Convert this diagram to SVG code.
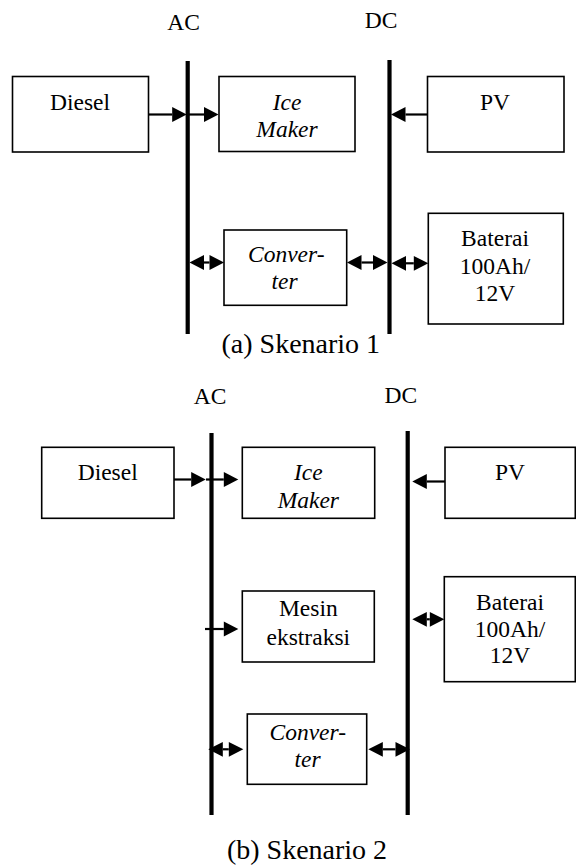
<svg xmlns="http://www.w3.org/2000/svg" width="576" height="865" viewBox="0 0 576 865">
  <defs>
    <style>
      .box { fill: #fff; stroke: #000; stroke-width: 1.6; }
      .bus { stroke: #000; stroke-width: 4.2; fill: none; }
      .wire { stroke: #000; stroke-width: 2.2; fill: none; }
      .one { marker-end: url(#head); }
      .two { marker-start: url(#head); marker-end: url(#head); }
      .lbl { font-family: 'Liberation Serif', 'Times New Roman', Times, serif; font-size: 23.5px; fill: #000; text-anchor: middle; }
      .it { font-style: italic; }
      .cap { font-size: 28px; }
    </style>
    <!-- arrowhead; reference point sits at the base so the wire stops where the head begins -->
    <marker id="head" viewBox="0 -8 15 16" markerUnits="userSpaceOnUse" markerWidth="15" markerHeight="16" refX="0" refY="0" orient="auto-start-reverse" overflow="visible">
      <path d="M0,-7.4 L14.5,0 L0,7.4 Z" fill="#000"/>
    </marker>
  </defs>
  <rect width="576" height="865" fill="#fff"/>

  <!-- ===== Scenario 1 ===== -->
  <g id="s1-buses">
    <line class="bus" x1="187.7" y1="61" x2="187.7" y2="334"/>
    <line class="bus" x1="389.5" y1="60" x2="389.5" y2="334"/>
    <text class="lbl" x="183.5" y="30">AC</text>
    <text class="lbl" x="381" y="27.5">DC</text>
  </g>

  <g id="s1-diesel">
    <rect class="box" x="12.5" y="76.5" width="136" height="75.5"/>
    <text class="lbl" x="80" y="110">Diesel</text>
  </g>
  <g id="s1-icemaker">
    <rect class="box" x="219" y="76.5" width="136" height="75"/>
    <text class="lbl it" x="287" y="110">Ice</text>
    <text class="lbl it" x="287" y="137">Maker</text>
  </g>
  <g id="s1-pv">
    <rect class="box" x="427.5" y="76.5" width="136.5" height="75.5"/>
    <text class="lbl" x="495" y="110">PV</text>
  </g>
  <g id="s1-converter">
    <rect class="box" x="224" y="230" width="122.7" height="75.3"/>
    <text class="lbl it" x="286.3" y="262.3">Conver-</text>
    <text class="lbl it" x="284.5" y="289.3">ter</text>
  </g>
  <g id="s1-baterai">
    <rect class="box" x="428.3" y="213.3" width="135" height="110.7"/>
    <text class="lbl" x="495" y="246">Baterai</text>
    <text class="lbl" x="495" y="274.3">100Ah/</text>
    <text class="lbl" x="495" y="301">12V</text>
  </g>

  <g id="s1-connectors">
    <line class="wire one" x1="148.7" y1="114.5" x2="172.2" y2="114.5"/>
    <line class="wire one" x1="188" y1="114.5" x2="204" y2="114.5"/>
    <line class="wire one" x1="427.7" y1="114.5" x2="405.5" y2="114.5"/>
    <line class="wire two" x1="204" y1="262.5" x2="209.5" y2="262.5"/>
    <line class="wire two" x1="361.5" y1="262.5" x2="373" y2="262.5"/>
    <line class="wire two" x1="406" y1="263.3" x2="413.8" y2="263.3"/>
  </g>

  <text class="lbl cap" x="300.8" y="353.3">(a) Skenario 1</text>

  <!-- ===== Scenario 2 ===== -->
  <g id="s2-buses">
    <line class="bus" x1="211.5" y1="433" x2="211.5" y2="815"/>
    <line class="bus" x1="407.7" y1="431" x2="407.7" y2="815"/>
    <text class="lbl" x="210" y="404.3">AC</text>
    <text class="lbl" x="400.8" y="403.3">DC</text>
  </g>

  <g id="s2-diesel">
    <rect class="box" x="41.7" y="447.3" width="132.3" height="71"/>
    <text class="lbl" x="107.7" y="480">Diesel</text>
  </g>
  <g id="s2-icemaker">
    <rect class="box" x="242.3" y="447.3" width="132.4" height="71"/>
    <text class="lbl it" x="308.3" y="480">Ice</text>
    <text class="lbl it" x="308.3" y="508.3">Maker</text>
  </g>
  <g id="s2-pv">
    <rect class="box" x="445" y="447.3" width="130.3" height="71"/>
    <text class="lbl" x="510" y="480">PV</text>
  </g>
  <g id="s2-mesin">
    <rect class="box" x="242.3" y="591" width="132" height="71"/>
    <text class="lbl" x="308.3" y="616">Mesin</text>
    <text class="lbl" x="308.3" y="645">ekstraksi</text>
  </g>
  <g id="s2-baterai">
    <rect class="box" x="444.3" y="576.7" width="131" height="105"/>
    <text class="lbl" x="510" y="610">Baterai</text>
    <text class="lbl" x="510" y="637.3">100Ah/</text>
    <text class="lbl" x="510" y="663.3">12V</text>
  </g>
  <g id="s2-converter">
    <rect class="box" x="247.3" y="714" width="119.4" height="70.3"/>
    <text class="lbl it" x="307.8" y="740">Conver-</text>
    <text class="lbl it" x="307.5" y="766.7">ter</text>
  </g>

  <g id="s2-connectors">
    <line class="wire one" x1="174" y1="479.5" x2="191.2" y2="479.5"/>
    <line class="wire one" x1="206" y1="479.5" x2="223.8" y2="479.5"/>
    <line class="wire one" x1="445" y1="481.5" x2="426.8" y2="481.5"/>
    <line class="wire one" x1="205" y1="629" x2="223.8" y2="629"/>
    <line class="wire two" x1="426.8" y1="619.3" x2="429.8" y2="619.3"/>
    <line class="wire two" x1="222.8" y1="749.3" x2="228.8" y2="749.3"/>
    <line class="wire two" x1="382.8" y1="749.3" x2="395.5" y2="749.3"/>
  </g>

  <text class="lbl cap" x="307" y="859">(b) Skenario 2</text>
</svg>
